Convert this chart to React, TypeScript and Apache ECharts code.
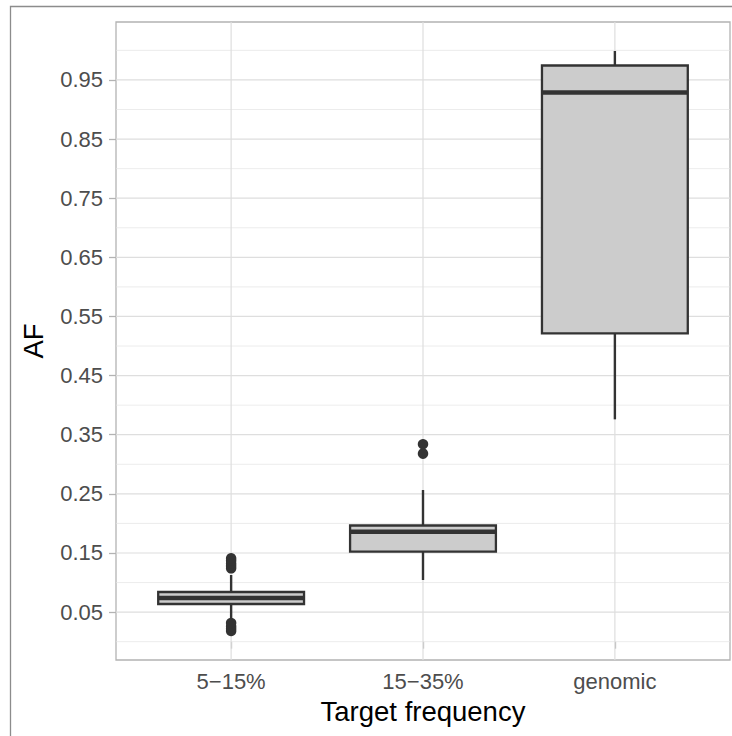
import React, { useEffect, useRef } from "react";
import * as echarts from "echarts";

const categories = ["5−15%", "15−35%", "genomic"];
const boxMin = [0.0395, 0.1043, 0.376];
const boxQ1 = [0.0637, 0.1522, 0.5215];
const boxMedian = [0.0739, 0.186, 0.9288];
const boxQ3 = [0.084, 0.1965, 0.9744];
const boxMax = [0.1128, 0.2565, 0.999];
const outliers1 = [0.018, 0.022, 0.026, 0.0316, 0.124, 0.128, 0.132, 0.137, 0.141];
const outliers2 = [0.318, 0.334];
const outliers3: number[] = [];
const yMajorTicks = [0.05, 0.15, 0.25, 0.35, 0.45, 0.55, 0.65, 0.75, 0.85, 0.95];
const yMinorTicks = [0.0, 0.1, 0.2, 0.3, 0.4, 0.5, 0.6, 0.7, 0.8, 0.9, 1.0];
const xTicks = [1, 2, 3];

const FONT = "Liberation Sans, Arial, sans-serif";

export default function App() {
  const ref = useRef<HTMLDivElement>(null);
  useEffect(() => {
    if (!ref.current) return;
    const chart = echarts.init(ref.current, null, { renderer: "svg" });

    const boxData = categories.map((_, i) => [
      i + 1,
      boxMin[i],
      boxQ1[i],
      boxMedian[i],
      boxQ3[i],
      boxMax[i],
    ]);
    const outlierData: number[][] = [];
    [outliers1, outliers2, outliers3].forEach((arr, i) =>
      arr.forEach((v) => outlierData.push([i + 1, v]))
    );

    const boxWidth = 0.76;

    const option: any = {
      animation: false,
      backgroundColor: "#ffffff",
      grid: {
        left: 116,
        top: 22,
        right: 2,
        bottom: 76,
        show: true,
        borderColor: "#B3B3B3",
        borderWidth: 1.3,
        backgroundColor: "transparent",
      },
      graphic: [
        {
          type: "rect",
          shape: { x: 10.5, y: 6.5, width: 900, height: 900 },
          style: { fill: "none", stroke: "#8c8c8c", lineWidth: 1.3 },
          silent: true,
          z: -10,
        },
      ],
      xAxis: {
        type: "value",
        min: 0.4,
        max: 3.6,
        axisLine: { show: false },
        splitLine: { show: false },
        axisTick: {
          show: true,
          customValues: xTicks,
          length: 7,
          lineStyle: { color: "#B3B3B3", width: 1.3 },
        },
        axisLabel: {
          customValues: xTicks,
          formatter: (v: number) => categories[Math.round(v) - 1] ?? "",
          color: "#4D4D4D",
          fontSize: 22,
          fontFamily: FONT,
          margin: 10,
        },
        name: "Target frequency",
        nameLocation: "middle",
        nameGap: 37,
        nameTextStyle: { color: "#000000", fontSize: 27.5, fontFamily: FONT },
      },
      yAxis: {
        type: "value",
        min: -0.031,
        max: 1.048,
        axisLine: { show: false },
        splitLine: { show: false },
        axisTick: {
          show: true,
          customValues: yMajorTicks,
          length: 7,
          lineStyle: { color: "#B3B3B3", width: 1.3 },
        },
        axisLabel: {
          customValues: yMajorTicks,
          formatter: (v: number) => v.toFixed(2),
          color: "#4D4D4D",
          fontSize: 22,
          fontFamily: FONT,
          margin: 13,
        },
        name: "AF",
        nameLocation: "middle",
        nameGap: 69,
        nameRotate: 90,
        nameTextStyle: { color: "#000000", fontSize: 27.5, fontFamily: FONT },
      },
      series: [
        {
          type: "custom",
          name: "minorH",
          silent: true,
          z: 1,
          data: yMinorTicks.map((v) => [1, v]),
          renderItem: (params: any, api: any) => {
            const cs = params.coordSys;
            const y = api.coord([1, api.value(1)])[1];
            return {
              type: "line",
              shape: { x1: cs.x, y1: y, x2: cs.x + cs.width, y2: y },
              style: { stroke: "#E4E4E4", lineWidth: 0.7 },
            };
          },
        },
        {
          type: "custom",
          name: "majorH",
          silent: true,
          z: 1,
          data: yMajorTicks.map((v) => [1, v]),
          renderItem: (params: any, api: any) => {
            const cs = params.coordSys;
            const y = api.coord([1, api.value(1)])[1];
            return {
              type: "line",
              shape: { x1: cs.x, y1: y, x2: cs.x + cs.width, y2: y },
              style: { stroke: "#DEDEDE", lineWidth: 1.2 },
            };
          },
        },
        {
          type: "custom",
          name: "majorV",
          silent: true,
          z: 1,
          data: xTicks.map((v) => [v, 0.5]),
          renderItem: (params: any, api: any) => {
            const cs = params.coordSys;
            const x = api.coord([api.value(0), 0.5])[0];
            return {
              type: "line",
              shape: { x1: x, y1: cs.y, x2: x, y2: cs.y + cs.height },
              style: { stroke: "#DEDEDE", lineWidth: 1.2 },
            };
          },
        },
        {
          type: "custom",
          name: "box",
          z: 3,
          data: boxData,
          renderItem: (_params: any, api: any) => {
            const x = api.value(0);
            const pMin = api.coord([x, api.value(1)]);
            const pQ1 = api.coord([x, api.value(2)]);
            const pMed = api.coord([x, api.value(3)]);
            const pQ3 = api.coord([x, api.value(4)]);
            const pMax = api.coord([x, api.value(5)]);
            const xl = api.coord([x - boxWidth / 2, 0])[0];
            const xr = api.coord([x + boxWidth / 2, 0])[0];
            const stroke = "#333333";
            return {
              type: "group",
              children: [
                {
                  type: "line",
                  shape: { x1: pMin[0], y1: pMin[1], x2: pQ1[0], y2: pQ1[1] },
                  style: { stroke, lineWidth: 2.4 },
                },
                {
                  type: "line",
                  shape: { x1: pQ3[0], y1: pQ3[1], x2: pMax[0], y2: pMax[1] },
                  style: { stroke, lineWidth: 2.4 },
                },
                {
                  type: "rect",
                  shape: { x: xl, y: pQ3[1], width: xr - xl, height: pQ1[1] - pQ3[1] },
                  style: { fill: "#CCCCCC", stroke, lineWidth: 2.3 },
                },
                {
                  type: "line",
                  shape: { x1: xl, y1: pMed[1], x2: xr, y2: pMed[1] },
                  style: { stroke, lineWidth: 4.6 },
                },
              ],
            };
          },
        },
        {
          type: "scatter",
          name: "outliers",
          z: 4,
          symbol: "circle",
          symbolSize: 10.5,
          itemStyle: { color: "#333333", opacity: 1 },
          data: outlierData,
        },
      ],
    };
    chart.setOption(option);
    return () => chart.dispose();
  }, []);
  return (
    <div
      ref={ref}
      style={{ position: "fixed", left: 0, top: 0, width: 732, height: 736 }}
    />
  );
}
